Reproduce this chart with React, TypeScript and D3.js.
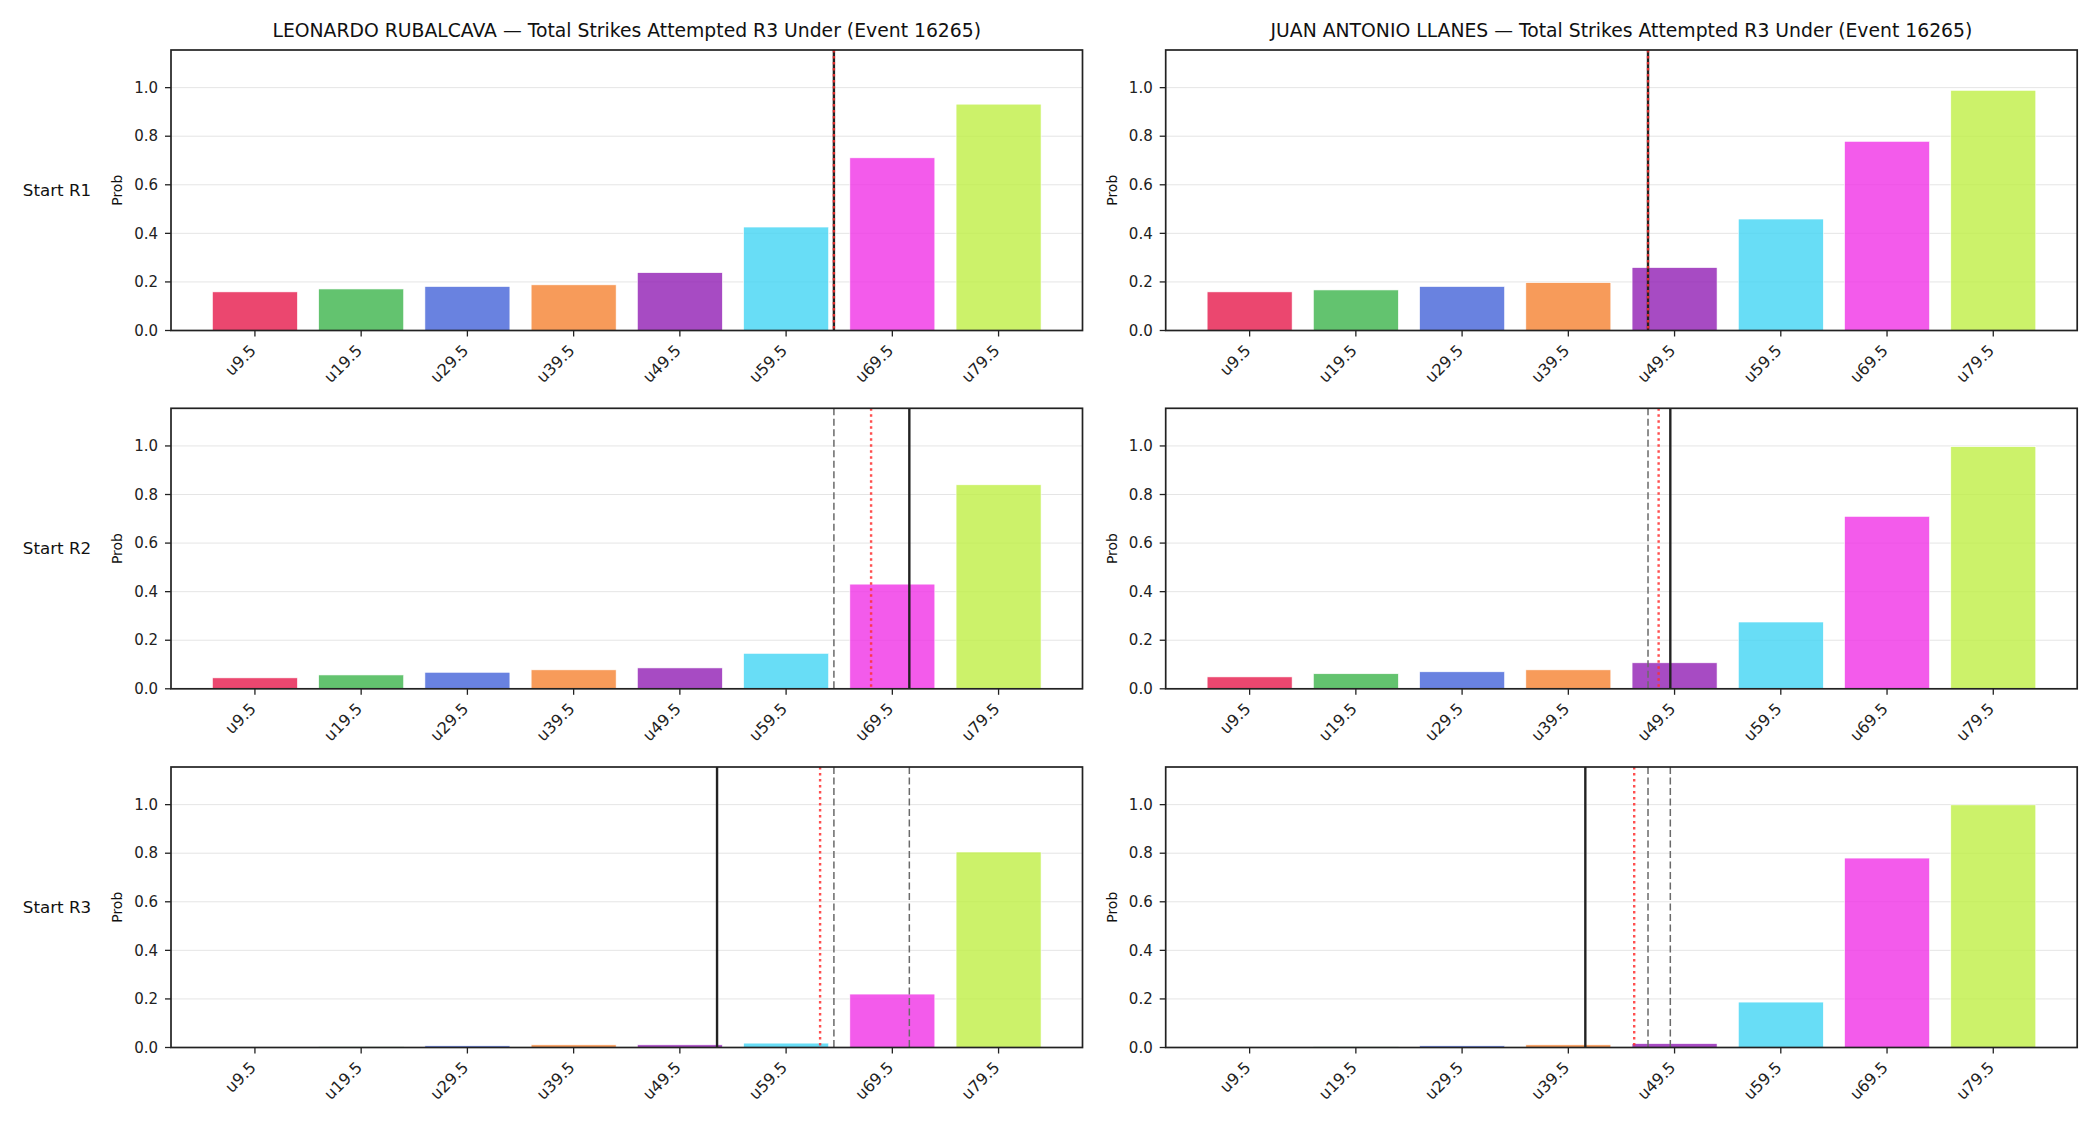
import { useEffect, useRef } from 'react'
import * as d3 from 'd3'

const WIDTH = 2100
const HEIGHT = 1125

const buckets = ['u9.5', 'u19.5', 'u29.5', 'u39.5', 'u49.5', 'u59.5', 'u69.5', 'u79.5']
const bucketColors = ['#e6194b', '#3cb44b', '#4363d8', '#f58231', '#911eb4', '#42d4f4', '#f032e6', '#bfef45']
const fighters = ['LEONARDO RUBALCAVA', 'JUAN ANTONIO LLANES']
const rowLabels = ['Start R1', 'Start R2', 'Start R3']
const yTicks = [0, 0.2, 0.4, 0.6, 0.8, 1.0]

// P(strikes attempted in R3 under each line), one array per fighter per round start
const rubalcavaR1 = [0.159, 0.171, 0.181, 0.188, 0.238, 0.426, 0.711, 0.932]
const rubalcavaR2 = [0.045, 0.057, 0.068, 0.078, 0.086, 0.146, 0.431, 0.840]
const rubalcavaR3 = [0.001, 0.003, 0.007, 0.011, 0.011, 0.018, 0.220, 0.805]
const llanesR1 = [0.159, 0.167, 0.181, 0.197, 0.259, 0.459, 0.779, 0.989]
const llanesR2 = [0.049, 0.062, 0.070, 0.078, 0.107, 0.275, 0.710, 0.997]
const llanesR3 = [0.001, 0.003, 0.007, 0.011, 0.016, 0.187, 0.780, 0.999]

// projected strike totals (solid) and market median (dotted) at each round start
const rubalcavaProj = [64.0, 71.1, 53.0]
const rubalcavaMedian = [64.0, 67.5, 62.7]
const llanesProj = [47.0, 49.1, 41.1]
const llanesMedian = [47.0, 48.0, 45.7]

const probs = [
  [rubalcavaR1, rubalcavaR2, rubalcavaR3],
  [llanesR1, llanesR2, llanesR3]
]
const projections = [rubalcavaProj, llanesProj]
const medians = [rubalcavaMedian, llanesMedian]

const FONT = '"DejaVu Sans", sans-serif'

export default function App() {
  const svgRef = useRef<SVGSVGElement>(null)

  useEffect(() => {
    if (!svgRef.current) return
    const svg = d3.select(svgRef.current)
    svg.selectAll('*').remove()

    svg.append('rect').attr('width', WIDTH).attr('height', HEIGHT).attr('fill', '#fff')

    const colLeft = [171, 1165.7]
    const plotW = 911.5
    const rowTop = [50, 408.3, 767]
    const plotH = 280.5

    const x = d3.scaleBand<string>()
      .domain(buckets)
      .range([0, plotW])
      .paddingInner(0.2)
      .paddingOuter(0.39)

    // continuous position along the bucket axis, bucket index i sits at i
    const xPos = d3.scaleLinear().domain([-0.79, 7.79]).range([0, plotW])
    const strikesToIndex = (v: number) => (v - 9.5) / 10

    const y = d3.scaleLinear().domain([0, 1.155]).range([plotH, 0])

    fighters.forEach((fighter, c) => {
      rowLabels.forEach((rowLabel, r) => {
        const g = svg.append('g')
          .attr('transform', `translate(${colLeft[c]}, ${rowTop[r]})`)

        // grid
        g.selectAll('line.grid')
          .data(yTicks)
          .enter()
          .append('line')
          .attr('x1', 0)
          .attr('x2', plotW)
          .attr('y1', d => y(d))
          .attr('y2', d => y(d))
          .attr('stroke', '#e5e5e5')
          .attr('stroke-width', 1)

        // bars
        g.selectAll('rect.bar')
          .data(probs[c][r])
          .enter()
          .append('rect')
          .attr('x', (_, i) => x(buckets[i]) as number)
          .attr('width', x.bandwidth())
          .attr('y', d => y(d))
          .attr('height', d => plotH - y(d))
          .attr('fill', (_, i) => bucketColors[i])
          .attr('fill-opacity', 0.8)
          .attr('stroke', '#fff')
          .attr('stroke-width', 0.6)

        // current projection
        const proj = projections[c][r]
        g.append('line')
          .attr('x1', xPos(strikesToIndex(proj)))
          .attr('x2', xPos(strikesToIndex(proj)))
          .attr('y1', 0)
          .attr('y2', plotH)
          .attr('stroke', '#222')
          .attr('stroke-width', 2.4)

        // projections from earlier round starts
        projections[c].slice(0, r).forEach(prev => {
          g.append('line')
            .attr('x1', xPos(strikesToIndex(prev)))
            .attr('x2', xPos(strikesToIndex(prev)))
            .attr('y1', 0)
            .attr('y2', plotH)
            .attr('stroke', '#6a6a6a')
            .attr('stroke-width', 1.5)
            .attr('stroke-dasharray', '7,3.5')
        })

        // market median
        const med = medians[c][r]
        g.append('line')
          .attr('x1', xPos(strikesToIndex(med)))
          .attr('x2', xPos(strikesToIndex(med)))
          .attr('y1', 0)
          .attr('y2', plotH)
          .attr('stroke', '#ff3030')
          .attr('stroke-opacity', 0.85)
          .attr('stroke-width', 2.4)
          .attr('stroke-dasharray', '2.4,3.6')

        // frame
        g.append('rect')
          .attr('width', plotW)
          .attr('height', plotH)
          .attr('fill', 'none')
          .attr('stroke', '#222')
          .attr('stroke-width', 1.7)

        // y ticks
        const yt = g.selectAll('g.ytick')
          .data(yTicks)
          .enter()
          .append('g')
          .attr('transform', d => `translate(0, ${y(d)})`)
        yt.append('line').attr('x1', -6).attr('x2', 0).attr('stroke', '#222').attr('stroke-width', 1.3)
        yt.append('text')
          .attr('x', -13)
          .attr('dy', '0.35em')
          .attr('text-anchor', 'end')
          .style('font-family', FONT)
          .style('font-size', '15px')
          .style('fill', '#222')
          .text(d => d.toFixed(1))

        // x ticks
        const xt = g.selectAll('g.xtick')
          .data(buckets)
          .enter()
          .append('g')
          .attr('transform', d => `translate(${(x(d) as number) + x.bandwidth() / 2}, ${plotH})`)
        xt.append('line').attr('y1', 0).attr('y2', 6).attr('stroke', '#222').attr('stroke-width', 1.3)
        xt.append('text')
          .attr('transform', 'translate(2, 21) rotate(-45)')
          .attr('text-anchor', 'end')
          .style('font-family', FONT)
          .style('font-size', '16px')
          .style('fill', '#222')
          .text(d => d)

        // y label
        g.append('text')
          .attr('transform', `translate(-54, ${plotH / 2}) rotate(-90)`)
          .attr('text-anchor', 'middle')
          .attr('dy', '0.35em')
          .style('font-family', FONT)
          .style('font-size', '14px')
          .style('fill', '#111')
          .text('Prob')

        if (c === 0) {
          g.append('text')
            .attr('x', -114)
            .attr('y', plotH / 2)
            .attr('dy', '0.35em')
            .attr('text-anchor', 'middle')
            .style('font-family', FONT)
            .style('font-size', '16.7px')
            .style('fill', '#111')
            .text(rowLabel)
        }

        if (r === 0) {
          g.append('text')
            .attr('x', plotW / 2)
            .attr('y', -13)
            .attr('text-anchor', 'middle')
            .style('font-family', FONT)
            .style('font-size', '18.8px')
            .style('fill', '#111')
            .text(`${fighter} — Total Strikes Attempted R3 Under (Event 16265)`)
        }
      })
    })
  }, [])

  return (
    <svg
      ref={svgRef}
      width={WIDTH}
      height={HEIGHT}
      style={{ position: 'absolute', left: 0, top: 0, display: 'block' }}
    />
  )
}
